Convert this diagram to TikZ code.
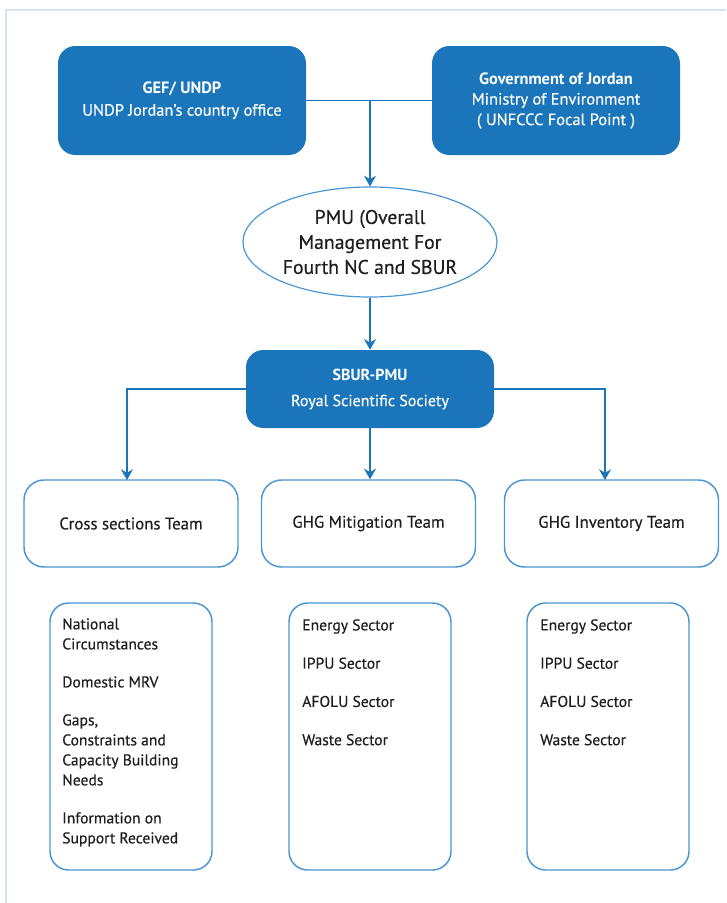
\documentclass[tikz,border=0pt]{standalone}
\usepackage{fontspec}
\setmainfont{PT Sans}[UprightFeatures={FakeBold=0.35}]
\usetikzlibrary{arrows.meta,shapes.geometric}
\definecolor{dblue}{HTML}{1A75BB}
\definecolor{lblue}{HTML}{4A96D2}
\definecolor{framec}{HTML}{D3E4F3}
\definecolor{txt}{HTML}{1E1E1E}
\tikzset{
  solidbox/.style={draw=none, fill=dblue, rounded corners=13pt, text=white, align=center, inner sep=0pt},
  teambox/.style={draw=lblue, line width=1.1pt, fill=white, rounded corners=15pt, inner sep=0pt, minimum width=160.5pt, minimum height=65.25pt, text=txt, font=\fontsize{12.6}{15}\selectfont},
  listbox/.style={draw=lblue, line width=1.1pt, fill=white, rounded corners=14pt, inner sep=0pt, minimum width=121.5pt, minimum height=200.25pt},
  listtext/.style={anchor=north west, align=left, inner sep=0pt, text=txt, font=\fontsize{11.7}{15}\selectfont},
  conn/.style={draw=dblue, line width=1.1pt},
  arr/.style={conn, -{Stealth[length=8pt,width=9pt]}}
}
\begin{document}
\begin{tikzpicture}[x=0.75pt,y=-0.75pt]
\useasboundingbox (0,0) rectangle (726,903);
\fill[white] (0,0) rectangle (726,903);
\draw[framec, line width=1.4pt] (6,903) -- (6,10) -- (726,10);

\node[solidbox, minimum width=186pt, minimum height=81.75pt, font=\fontsize{12.3}{16.5}\selectfont] (gef) at (182,100.5)
  {\textbf{GEF/ UNDP}\\ UNDP Jordan’s country office};
\node[solidbox, minimum width=186pt, minimum height=81.75pt, font=\fontsize{12.3}{15.4}\selectfont] (gov) at (556,100.5)
  {\textbf{Government of Jordan}\\ Ministry of Environment\\ ( UNFCCC Focal Point )};

\node[ellipse, draw=lblue, line width=0.9pt, fill=white, minimum width=190.5pt, minimum height=82.5pt, inner sep=0pt, align=center, text=txt,
  font=\fontsize{14.8}{18.75}\selectfont] (pmu) at (370,242)
  {PMU (Overall\\ Management For\\ Fourth NC and SBUR};

\node[solidbox, minimum width=186pt, minimum height=58.5pt, font=\fontsize{12}{19.5}\selectfont] (sbur) at (370,389)
  {\textbf{SBUR-PMU}\\ Royal Scientific Society};

\node[teambox] (t1) at (131,523.5) {Cross sections Team};
\node[teambox] (t2) at (368.5,523.5) {GHG Mitigation Team};
\node[teambox] (t3) at (611.5,523.5) {GHG Inventory Team};

\node[listbox] (b1) at (131,736.5) {};
\node[listbox] (b2) at (370,736.5) {};
\node[listbox] (b3) at (608,736.5) {};

\node[listtext] (l1) at (62,618) {National\\ Circumstances\\[13.5pt] Domestic MRV\\[13.5pt] Gaps,\\ Constraints and\\ Capacity Building\\ Needs\\[13.5pt] Information on\\ Support Received};
\node[listtext, font=\fontsize{11.7}{28.7}\selectfont] (l2) at (302,619) {Energy Sector\\ IPPU Sector\\ AFOLU Sector\\ Waste Sector};
\node[listtext, font=\fontsize{11.7}{28.7}\selectfont] (l3) at (540,619) {Energy Sector\\ IPPU Sector\\ AFOLU Sector\\ Waste Sector};

\coordinate (j1) at (370,100.5);
\draw[conn] (gef.east) -- (gov.west);
\draw[arr] (j1) -- (pmu.north);
\draw[arr] (pmu.south) -- (sbur.north);
\coordinate (t1a) at (127,480);
\coordinate (t3a) at (605,480);
\draw[arr] (sbur.west) -| (t1a);
\draw[arr] (sbur.east) -| (t3a);
\draw[arr] (sbur.south) -- (sbur.south |- t2.north);
\end{tikzpicture}
\end{document}
